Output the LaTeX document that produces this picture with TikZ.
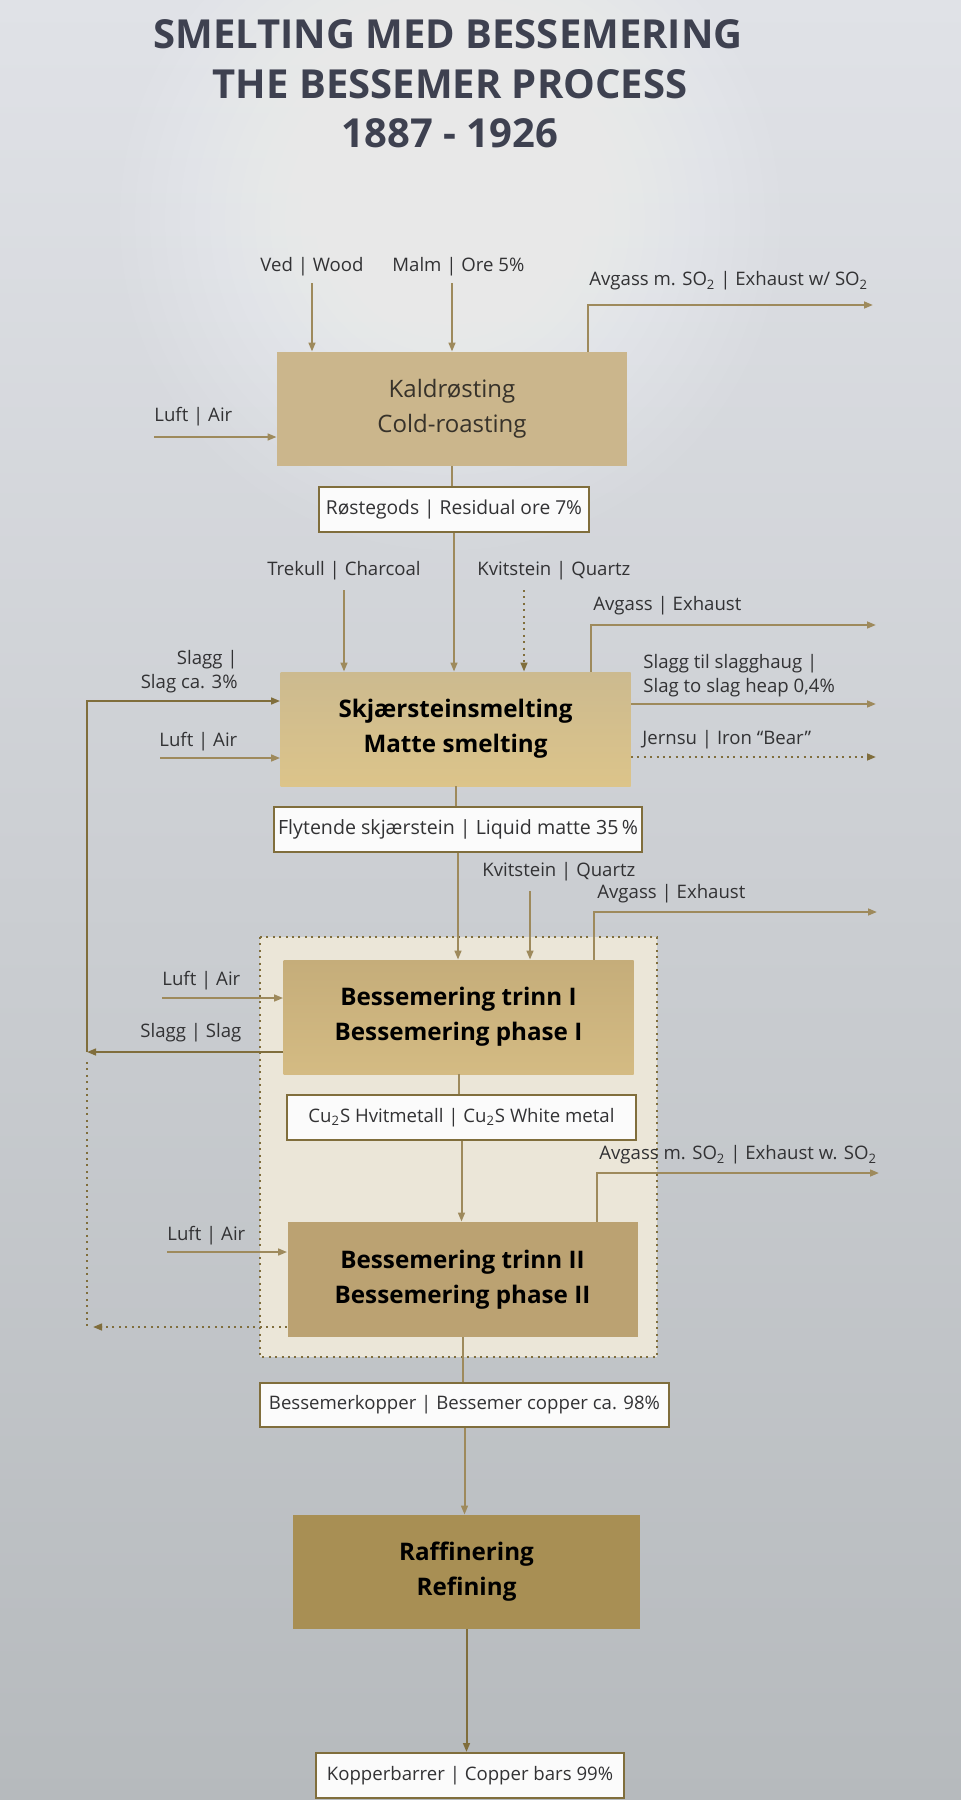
\documentclass[tikz,border=0pt]{standalone}
\usepackage{fontspec}
\setmainfont{Open Sans}
\usetikzlibrary{arrows.meta}

\definecolor{linie}{RGB}{158,138,92}
\definecolor{dunkel}{RGB}{128,110,60}
\definecolor{schrift}{RGB}{50,50,52}
\definecolor{titel}{RGB}{62,65,80}
\definecolor{gruppe}{RGB}{235,230,216}

\tikzset{
  pfeil/.style={draw=linie, line width=1pt, -{Triangle[length=4.5pt,width=3.4pt]}},
  strich/.style={draw=linie, line width=1pt},
  punkte/.style={draw=dunkel, line width=1pt, dash pattern=on 1pt off 2.2pt},
  bigbox/.style={inner sep=0pt, minimum width=175pt, minimum height=57pt, align=center,
    font=\fontsize{12.1}{17.5}\selectfont\bfseries, text=black},
  smallbox/.style={draw=dunkel, line width=1pt, fill=white!60!gray!8, inner sep=0pt,
    minimum height=22.5pt, font=\fontsize{9.3}{11}\selectfont, text=schrift},
  etikett/.style={inner sep=0pt, font=\fontsize{9.3}{12}\selectfont, text=schrift},
  ueberschrift/.style={inner sep=0pt, anchor=base, font=\fontsize{20}{25}\selectfont\bfseries, text=titel}
}

\begin{document}
\begin{tikzpicture}[x=0.5pt,y=-0.5pt]
	\useasboundingbox (0,0) rectangle (961,1800);
	% Hintergrund
	\shade[top color={rgb,255:red,224;green,226;blue,231}, middle color={rgb,255:red,220;green,222;blue,224},
	  bottom color={rgb,255:red,182;green,186;blue,189}] (0,0) rectangle (961,1800);
	\foreach \r in {330,315,...,15}
	  \fill[white, opacity=0.045] (450,220) circle (\r);
	\draw[punkte, fill=gruppe] (260,937) rectangle (657,1357);

	% Titel
	\node (t1) at (448,48) [ueberschrift] {SMELTING MED BESSEMERING};
	\node (t2) at (450,98) [ueberschrift] {THE BESSEMER PROCESS};
	\node (t3) at (450,147) [ueberschrift] {1887 - 1926};

	% Boxen
	\node (kald) at (452,409) [bigbox, fill={rgb,255:red,203;green,182;blue,140},
	  font=\fontsize{12}{17.5}\selectfont, text={rgb,255:red,55;green,50;blue,42}] {Kaldrøsting\\Cold-roasting};
	\node (rost) at (454,509.5) [smallbox, minimum width=135pt, font=\fontsize{9.6}{11}\selectfont] {Røstegods | Residual ore 7\%};
	\node (skj) at (455.5,729) [bigbox, top color={rgb,255:red,204;green,186;blue,143},
	  bottom color={rgb,255:red,220;green,196;blue,138}] {Skjærsteinsmelting\\Matte smelting};
	\node (flyt) at (458,829.5) [smallbox, minimum width=184pt, font=\fontsize{9.8}{11}\selectfont] {Flytende skjærstein | Liquid matte 35\,\%};
	\node (b1) at (458.5,1017) [bigbox, top color={rgb,255:red,197;green,173;blue,122},
	  bottom color={rgb,255:red,212;green,187;blue,131}] {Bessemering trinn I\\Bessemering phase I};
	\node (cus) at (461.5,1117.5) [smallbox, minimum width=174.5pt] {Cu\textsubscript{2}S Hvitmetall | Cu\textsubscript{2}S White metal};
	\node (b2) at (462.5,1279.5) [bigbox, minimum height=57.5pt, fill={rgb,255:red,187;green,162;blue,114}] {Bessemering trinn II\\Bessemering phase II};
	\node (bkop) at (464.5,1405) [smallbox, minimum width=204.5pt, minimum height=22pt] {Bessemerkopper | Bessemer copper ca. 98\%};
	\node (raff) at (466.5,1572) [bigbox, minimum width=173.5pt, fill={rgb,255:red,168;green,143;blue,84}] {Raffinering\\Refining};
	\node (kopb) at (470,1775.5) [smallbox, minimum width=154pt] {Kopperbarrer | Copper bars 99\%};

	% Beschriftungen
	\node (lved) at (312,267) [etikett] {Ved | Wood};
	\node (lmalm) at (392,267) [etikett, anchor=west] {Malm | Ore 5\%};
	\node (lgas1) at (589,281) [etikett, anchor=west] {Avgass m. SO\textsubscript{2} | Exhaust w/ SO\textsubscript{2}};
	\node (lluft1) at (154,417) [etikett, anchor=west] {Luft | Air};
	\node (ltrek) at (344,571) [etikett] {Trekull | Charcoal};
	\node (lkvit1) at (477,571) [etikett, anchor=west] {Kvitstein | Quartz};
	\node (lgas2) at (593,606) [etikett, anchor=west] {Avgass | Exhaust};
	\node (lslag1) at (238,672) [etikett, anchor=east, align=right, font=\fontsize{9.3}{12}\selectfont] {Slagg |\\Slag ca. 3\%};
	\node (lluft2) at (159,742) [etikett, anchor=west] {Luft | Air};
	\node (lhaug) at (643,676) [etikett, anchor=west, align=left, font=\fontsize{9.3}{12}\selectfont] {Slagg til slagghaug |\\Slag to slag heap 0,4\%};
	\node (ljern) at (642,740) [etikett, anchor=west] {Jernsu | Iron “Bear”};
	\node (lkvit2) at (482,872) [etikett, anchor=west] {Kvitstein | Quartz};
	\node (lgas3) at (597,894) [etikett, anchor=west] {Avgass | Exhaust};
	\node (lluft3) at (162,981) [etikett, anchor=west] {Luft | Air};
	\node (lslag2) at (140,1033) [etikett, anchor=west] {Slagg | Slag};
	\node (lgas4) at (599,1155) [etikett, anchor=west] {Avgass m. SO\textsubscript{2} | Exhaust w. SO\textsubscript{2}};
	\node (lluft4) at (167,1236) [etikett, anchor=west] {Luft | Air};

	% freie Enden
	\coordinate (ved) at (312,283);
	\coordinate (malm) at (452,283);
	\coordinate (gas1) at (873,305);
	\coordinate (luft1) at (154,437);
	\coordinate (trek) at (344,590);
	\coordinate (kvit1) at (524,590);
	\coordinate (gas2) at (876,625);
	\coordinate (luft2) at (160,758);
	\coordinate (haug) at (876,704);
	\coordinate (jern) at (876,757);
	\coordinate (kvit2) at (530,891);
	\coordinate (gas3) at (877,912);
	\coordinate (luft3) at (162,998);
	\coordinate (ruck1) at (87,1052);
	\coordinate (ruck2) at (87,701);
	\coordinate (luft4) at (167,1252);
	\coordinate (gas4) at (879,1173);
	\coordinate (ruck3) at (93,1327);
	\coordinate (ruck4) at (87,1062);

	% Pfeile
	\draw[pfeil] (ved) to (ved |- kald.north);
	\draw[pfeil] (malm) to (malm |- kald.north);
	\draw[pfeil] (kald.north -| 588,0) |- (gas1);
	\draw[pfeil] (luft1) to (luft1 -| kald.west);
	\draw[strich] (kald.south) to (kald.south |- rost.north);
	\draw[pfeil] (rost.south) to (rost.south |- skj.north);
	\draw[pfeil] (trek) to (trek |- skj.north);
	\draw[punkte, -{Triangle[length=4.5pt,width=3.4pt]}] (kvit1) to (kvit1 |- skj.north);
	\draw[pfeil] (skj.north -| 591,0) |- (gas2);
	\draw[pfeil] (luft2) to (luft2 -| skj.west);
	\draw[pfeil] (haug -| skj.east) to (haug);
	\draw[punkte, -{Triangle[length=4.5pt,width=3.4pt]}] (jern -| skj.east) to (jern);
	\draw[strich] (skj.south) to (skj.south |- flyt.north);
	\draw[pfeil] (flyt.south) to (flyt.south |- b1.north);
	\draw[pfeil] (kvit2) to (kvit2 |- b1.north);
	\draw[pfeil] (b1.north -| 594,0) |- (gas3);
	\draw[pfeil] (luft3) to (luft3 -| b1.west);
	\draw[pfeil, draw=dunkel] (ruck1 -| b1.west) to (ruck1);
	\draw[pfeil, draw=dunkel] (ruck1) -- (ruck2) -- (ruck2 -| skj.west);
	\draw[strich] (b1.south) to (b1.south |- cus.north);
	\draw[pfeil] (cus.south) to (cus.south |- b2.north);
	\draw[pfeil] (b2.north -| 597,0) |- (gas4);
	\draw[pfeil] (luft4) to (luft4 -| b2.west);
	\draw[punkte] (ruck4) to (ruck4 |- ruck3);
	\draw[punkte, -{Triangle[length=4.5pt,width=3.4pt]}] (ruck3 -| b2.west) to (ruck3);
	\draw[strich] (b2.south) to (b2.south |- bkop.north);
	\draw[pfeil] (bkop.south) to (bkop.south |- raff.north);
	\draw[pfeil, draw=dunkel] (raff.south) to (raff.south |- kopb.north);
\end{tikzpicture}
\end{document}
